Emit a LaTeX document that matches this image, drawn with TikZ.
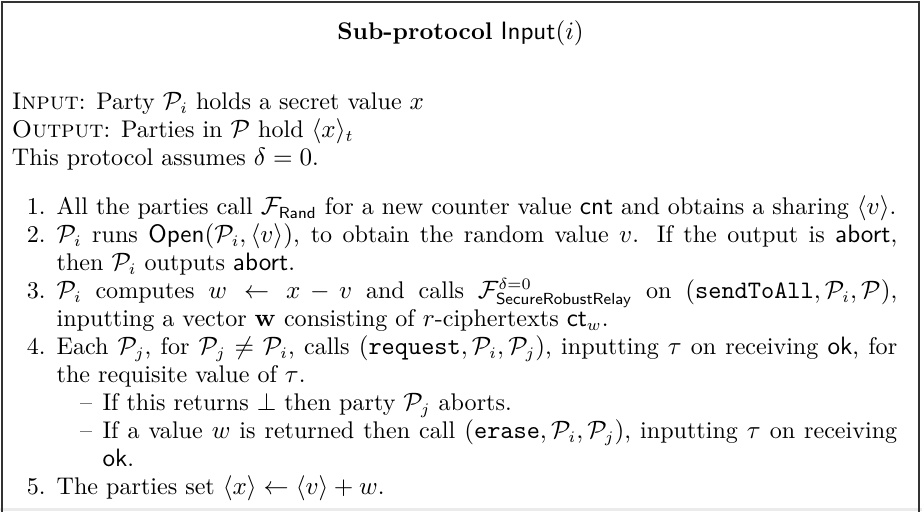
\documentclass[tikz,border=0pt]{standalone}
\usepackage{amsmath,amssymb}

% party and functionality shorthands
\newcommand{\Pa}[1]{\mathcal{P}_{#1}}
\newcommand{\Fn}[1]{\mathcal{F}_{\mathsf{#1}}}

% numbered steps and dashed sub-steps, without extra vertical space
\newenvironment{steplist}{%
  \begin{list}{\arabic{enumi}.}{\usecounter{enumi}%
    \setlength{\leftmargin}{19.5pt}\setlength{\labelsep}{4.8pt}%
    \setlength{\labelwidth}{14.7pt}\setlength{\itemsep}{0pt}%
    \setlength{\parsep}{0pt}\setlength{\topsep}{0pt}\setlength{\partopsep}{0pt}}}%
  {\end{list}}
\newenvironment{dashlist}{%
  \begin{list}{--}{%
    \setlength{\leftmargin}{20pt}\setlength{\labelsep}{4.5pt}%
    \setlength{\labelwidth}{15.5pt}\setlength{\itemsep}{0pt}%
    \setlength{\parsep}{0pt}\setlength{\topsep}{0pt}\setlength{\partopsep}{0pt}}}%
  {\end{list}}

\begin{document}
\begin{tikzpicture}[x=1pt,y=1pt,
  frame/.style={draw=black!80,line width=0.75pt},
  heading/.style={anchor=base,inner sep=0pt,font=\fontsize{10.5}{12.2}\selectfont},
  bodytext/.style={anchor=base west,inner sep=0pt}]
  \useasboundingbox (0,0) rectangle (402,-222.8);

  % light strip along the lower edge
  \fill[black!8] (0,-221.6) rectangle (402,-222.8);

  % outer box, open at the bottom
  \draw[frame] (0.9,-230) -- (0.9,-0.9) -- (400.7,-0.9) -- (400.7,-230);

  \node[heading] (title) at (200.8,-17.4)
    {\textbf{Sub-protocol} $\mathsf{Input}(i)$};

  \node[bodytext] (body) at (5.0,-47.8) {%
    \begin{minipage}[t]{386pt}
      \fontsize{10.5}{12.2}\selectfont
      \textsc{Input}: Party $\Pa{i}$ holds a secret value $x$\\
      \textsc{Output}: Parties in $\mathcal{P}$ hold $\langle x\rangle_t$\\
      This protocol assumes $\delta = 0$.\par
      \vspace{9.2pt}
      \begin{steplist}
        \item All the parties call $\Fn{Rand}$ for a new counter value
          $\mathsf{cnt}$ and obtains a sharing $\langle v\rangle$.
        \item $\Pa{i}$ runs $\mathsf{Open}(\Pa{i},\langle v\rangle)$, to
          obtain the random value $v$. If the output is
          $\mathsf{abort}$,\linebreak then $\Pa{i}$ outputs $\mathsf{abort}$.
        \item $\Pa{i}$ computes $w \leftarrow x - v$ and calls
          $\mathcal{F}^{\delta=0}_{\mathsf{SecureRobustRelay}}$ on
          $(\mathtt{sendToAll},\Pa{i},\mathcal{P})$,\linebreak inputting a
          vector $\mathbf{w}$ consisting of $r$-ciphertexts $\mathsf{ct}_w$.
        \item Each $\Pa{j}$, for $\Pa{j} \neq \Pa{i}$, calls
          $(\mathtt{request},\Pa{i},\Pa{j})$, inputting $\tau$ on receiving
          $\mathsf{ok}$, for\linebreak the requisite value of $\tau$.
          \begin{dashlist}
            \item If this returns $\perp$ then party $\Pa{j}$ aborts.
            \item If a value $w$ is returned then call
              $(\mathtt{erase},\Pa{i},\Pa{j})$, inputting $\tau$ on
              receiving\linebreak $\mathsf{ok}$.
          \end{dashlist}
        \item The parties set $\langle x\rangle \leftarrow \langle v\rangle + w$.
      \end{steplist}
    \end{minipage}};
\end{tikzpicture}
\end{document}
